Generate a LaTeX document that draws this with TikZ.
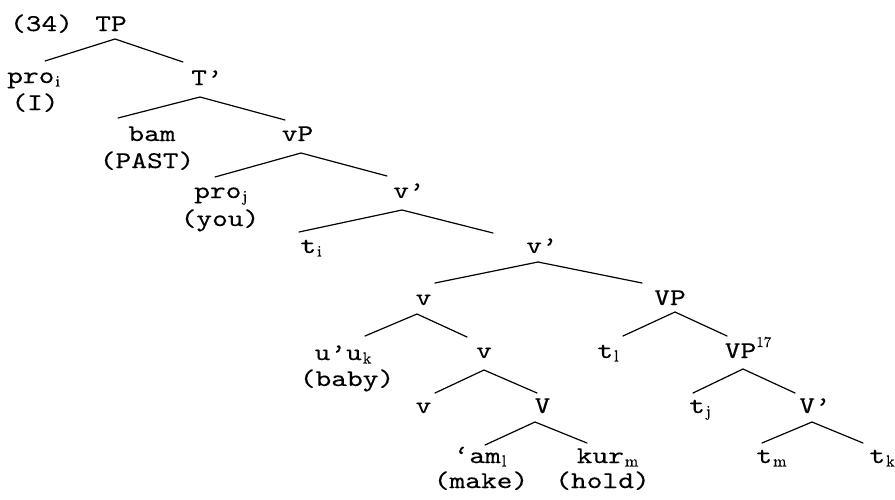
\documentclass[tikz,border=0pt]{standalone}
\usepackage{fontspec}
\newfontfamily\courfont{lmmono10-regular.otf}[FakeStretch=1.25,FakeBold=0.25]
\newfontfamily\subsfont{lmroman10-regular.otf}[FakeBold=0.4]
\usetikzlibrary{calc}
\newcommand\sbs[1]{\kern1pt\raisebox{-3.5pt}{\subsfont\fontsize{16}{16}\selectfont #1}}
\newcommand\sps[1]{\raisebox{11pt}{\subsfont\fontsize{15}{15}\selectfont #1}}
\tikzset{
  lab/.style={inner sep=0pt, anchor=base, font=\courfont\fontsize{24}{28}\selectfont},
  labw/.style={lab, anchor=base west},
  edge/.style={line width=1.2pt, line cap=round}
}
\begin{document}
\begin{tikzpicture}[x=1pt, y=-1pt]
\useasboundingbox (0,0) rectangle (895,499);
% labels
\node[lab] (ex) at (41.5,31) {(34)};
\node[lab] (TP) at (111,31) {TP};
\node[labw] (proi) at (7,83) {pro\sbs{i}};
\node[lab] (proig) at (35,110) {(I)};
\node[lab] (Tb) at (207,85) {T’};
\node[lab] (bam) at (152,141) {bam};
\node[lab] (bamg) at (147,168) {(PAST)};
\node[lab] (vP) at (297.5,141) {vP};
\node[labw] (proj) at (194,198) {pro\sbs{j}};
\node[lab] (projg) at (220,226) {(you)};
\node[lab] (vb1) at (409,198) {v’};
\node[lab] (ti) at (311,253) {t\sbs{i}};
\node[lab] (vb2) at (542,253) {v’};
\node[lab] (v1) at (423.5,305) {v};
\node[lab] (VP) at (670,305) {VP};
\node[lab] (uu) at (343,360) {u’u\sbs{k}};
\node[lab] (uug) at (347,386) {(baby)};
\node[lab] (v2) at (484,358) {v};
\node[lab] (tl) at (608,358) {t\sbs{l}};
\node[lab] (VPs) at (748,358) {VP\sps{17}};
\node[lab] (v3) at (423.5,413) {v};
\node[lab] (V) at (542.5,413) {V};
\node[lab] (tj) at (700,413) {t\sbs{j}};
\node[lab] (Vb) at (815,413) {V’};
\node[lab] (am) at (480,463) {‘am\sbs{l}};
\node[lab] (amg) at (481,488) {(make)};
\node[lab] (kur) at (607.5,463) {kur\sbs{m}};
\node[lab] (kurg) at (602.5,488) {(hold)};
\node[lab] (tm) at (771.5,463) {t\sbs{m}};
\node[lab] (tk) at (882,463) {t\sbs{k}};
% edges
\draw[edge] ($(proi.base west)+(38,-22)$) -- ($(TP.base)+(4,8)$) -- ($(Tb.base)+(-24,-23)$);
\draw[edge] ($(bam.base)+(-34,-23)$) -- ($(Tb.base)+(-7,12)$) -- ($(vP.base)+(-12.5,-21)$);
\draw[edge] ($(proj.base west)+(21,-21)$) -- ($(vP.base)+(3.5,12)$) -- ($(vb1.base)+(-22,-22)$);
\draw[edge] ($(ti.base)+(-12,-21)$) -- ($(vb1.base)+(-7,12)$) -- ($(vb2.base)+(-49,-20)$);
\draw[edge] ($(v1.base)+(11.5,-22)$) -- ($(vb2.base)+(-4,9)$) -- ($(VP.base)+(-28,-22)$);
\draw[edge] ($(uu.base)+(22,-24)$) -- ($(v1.base)+(-6.5,9)$) -- ($(v2.base)+(-17,-21)$);
\draw[edge] ($(tl.base)+(15,-22)$) -- ($(VP.base)+(5,7)$) -- ($(VPs.base)+(-21,-22)$);
\draw[edge] ($(v3.base)+(11.5,-20)$) -- ($(v2.base)+(0,12)$) -- ($(V.base)+(-5.5,-20)$);
\draw[edge] ($(tj.base)+(-7,-20)$) -- ($(VPs.base)+(-5,11)$) -- ($(Vb.base)+(-20,-20)$);
\draw[edge] ($(am.base)+(5,-18)$) -- ($(V.base)+(-7.5,9)$) -- ($(kur.base)+(-20.5,-20)$);
\draw[edge] ($(tm.base)+(-9.5,-20)$) -- ($(Vb.base)+(-3,9)$) -- ($(tk.base)+(-19,-20)$);
\end{tikzpicture}
\end{document}
